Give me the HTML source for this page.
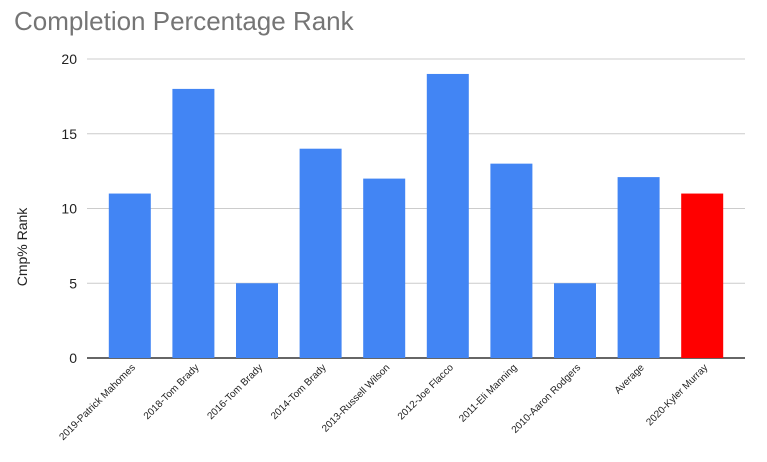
<!DOCTYPE html>
<html><head><meta charset="utf-8"><style>
body{margin:0;background:#fff;width:767px;height:457px;overflow:hidden;font-family:"Liberation Sans",Arial,sans-serif}
</style></head><body>
<svg id="chart" width="767" height="457" xmlns="http://www.w3.org/2000/svg">
<text x="14" y="30" font-size="26" fill="#757575" font-family="Liberation Sans, sans-serif">Completion Percentage Rank</text>
<text transform="translate(27,247) rotate(-90)" text-anchor="middle" font-size="14" fill="#222" font-family="Liberation Sans, sans-serif">Cmp% Rank</text>
<g id="grid"></g><g id="bars"></g><g id="labels"></g>
</svg>
<script>
const categories=["2019-Patrick Mahomes","2018-Tom Brady","2016-Tom Brady","2014-Tom Brady","2013-Russell Wilson","2012-Joe Flacco","2011-Eli Manning","2010-Aaron Rodgers","Average","2020-Kyler Murray"];
const values=[11,18,5,14,12,19,13,5,12.1,11];
const barColors=["#4285f4","#4285f4","#4285f4","#4285f4","#4285f4","#4285f4","#4285f4","#4285f4","#4285f4","#ff0000"];
const yTicks=[0,5,10,15,20];
const NS="http://www.w3.org/2000/svg";
const x0=98,x1=734,yTop=59,yBot=358,yMax=20;
const y=v=>yBot-(v/yMax)*(yBot-yTop);
const band=(x1-x0)/categories.length;
const xc=i=>x0+band*(i+0.5);
const grid=document.getElementById('grid'),barsG=document.getElementById('bars'),labG=document.getElementById('labels');
function mk(t,a){const e=document.createElementNS(NS,t);for(const k in a)e.setAttribute(k,a[k]);return e;}
yTicks.forEach(t=>{
  const l=mk('line',{x1:87,x2:745,y1:y(t),y2:y(t),stroke:t===0?'#333':'#ccc','stroke-width':t===0?1.5:1});
  
  
  grid.appendChild(l);
  const tx=mk('text',{x:77,y:y(t)+5,'text-anchor':'end','font-size':14,fill:'#222'});
  tx.textContent=t;
  
  
  grid.appendChild(tx);
});
values.forEach((v,i)=>{
  const w=42;
  const r=mk('rect',{x:xc(i)-w/2,y:y(v),width:w,height:yBot-y(v),fill:barColors[i]});
  
  
  barsG.appendChild(r);
  const t=mk('text',{transform:`translate(${xc(i)+6},368) rotate(-45)`,'text-anchor':'end','font-size':10,fill:'#222'});
  t.textContent=categories[i];
  
  
  labG.appendChild(t);
});
</script>
</body></html>
